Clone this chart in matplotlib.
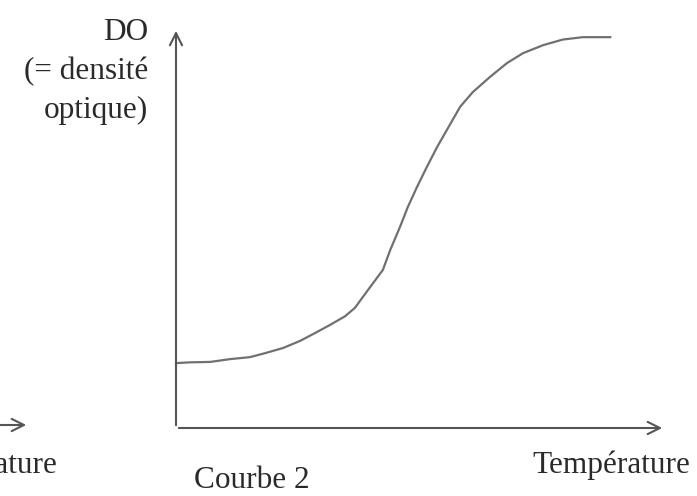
import matplotlib.pyplot as plt
from matplotlib.patches import FancyArrowPatch

# curve (arbitrary units, origin at the axes corner)
temperature = [0, 2.9, 7.0, 11.0, 15.1, 18.2, 21.9, 25.4, 28.8, 31.5, 34.6,
               36.6, 38.2, 40.3, 42.3, 43.8, 45.8, 47.4, 49.3, 51.3, 53.4,
               55.4, 58.1, 60.7, 64.2, 67.7, 71.0, 75.1, 79.1, 83.2, 88.8]
densite = [16.3, 16.5, 16.6, 17.3, 17.8, 18.8, 20.1, 21.9, 24.1, 25.9, 28.1,
           30.2, 32.9, 36.4, 39.7, 44.7, 50.5, 55.5, 60.6, 65.6, 70.6,
           74.9, 80.7, 84.4, 88.2, 91.7, 94.2, 96.2, 97.6, 98.2, 98.2]

plt.rcParams['font.family'] = ['Liberation Serif', 'DejaVu Serif']
W, H = 697, 496
fig = plt.figure(figsize=(W / 100, H / 100), dpi=100)
ax = fig.add_axes([176 / W, (H - 428) / H, (665 - 176) / W, (428 - 30) / H])
ax.set_xlim(0, 100)
ax.set_ylim(0, 100)
ax.axis('off')

axis_col = '#555555'
ax.plot(temperature, densite, color='#707070', lw=1.6, clip_on=False,
        solid_joinstyle='round')

# axes with open arrowheads
arrow = dict(arrowstyle='->', color=axis_col, lw=1.5, mutation_scale=22)
ax.annotate('', xy=(0, 1.005), xytext=(0, 0), xycoords='axes fraction',
            arrowprops=arrow)
ax.annotate('', xy=(1.0, 0), xytext=(0, 0), xycoords='axes fraction',
            arrowprops=arrow)

txt = '#2a2a2a'
fs = 22.5
fig.text(148 / W, 1 - 32 / H, 'DO', ha='right', va='center', fontsize=fs, color=txt)
fig.text(148 / W, 1 - 72 / H, '(= densité', ha='right', va='center', fontsize=fs, color=txt)
fig.text(148 / W, 1 - 110 / H, 'optique)', ha='right', va='center', fontsize=fs, color=txt)
fig.text(690 / W, 1 - 465 / H, 'Température', ha='right', va='center', fontsize=fs, color=txt)
fig.text(252 / W, 1 - 481 / H, 'Courbe 2', ha='center', va='center', fontsize=fs, color=txt)

# leftover of the neighbouring panel, cut by the left edge
fig.text(57 / W, 1 - 465 / H, 'Température', ha='right', va='center', fontsize=fs, color=txt)
fig.add_artist(FancyArrowPatch(
    (-5 / W, 1 - 425 / H), (29 / W, 1 - 425 / H), transform=fig.transFigure,
    arrowstyle='->', color=axis_col, lw=1.5, mutation_scale=22))

fig.savefig('out.png', dpi=100, facecolor='white')
